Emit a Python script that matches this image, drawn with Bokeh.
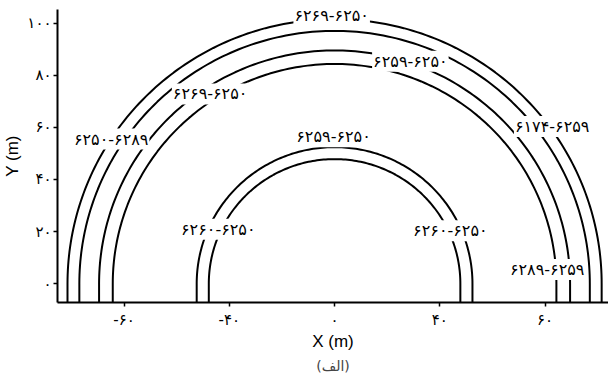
import numpy as np
from bokeh.plotting import figure
from bokeh.models import Label, Title, FixedTicker
from bokeh.embed import file_html
from bokeh.resources import INLINE

# contour radii (m)
outer_radii = [101.5, 97.0, 89.5, 84.3]
inner_radii = [52.4, 47.8]

# contour labels
label_texts = ["۶۲۶۹-۶۲۵۰", "۶۲۵۹-۶۲۵۰", "۶۲۶۹-۶۲۵۰", "۶۲۵۰-۶۲۸۹", "۶۱۷۴-۶۲۵۹",
               "۶۲۸۹-۶۲۵۹", "۶۲۵۹-۶۲۵۰", "۶۲۶۰-۶۲۵۰", "۶۲۶۰-۶۲۵۰"]
label_x = [-1.1, 28.8, -47.3, -84.9, 82.7, 80.8, -0.4, -44.2, 44.0]
label_y = [103.0, 85.3, 72.8, 55.5, 60.3, 5.5, 56.4, 20.9, 20.3]

x_ticks = [-80, -40, 0, 40, 80]
x_tick_labels = ["-۶۰", "-۴۰", "۰", "۴۰", "۶۰"]
y_ticks = [0, 20, 40, 60, 80, 100]
y_tick_labels = ["۰", "۲۰", "۴۰", "۶۰", "۸۰", "۱۰۰"]

X0, X1 = -105.3, 104.1
Y0, Y1 = -7.2, 105.2

p = figure(width=608, height=378, x_range=(X0, X1), y_range=(Y0, Y1),
           output_backend="svg", toolbar_location=None,
           min_border_left=57, min_border_right=0, min_border_top=9,
           min_border_bottom=76)
p.outline_line_color = None
p.grid.grid_line_color = None

theta = np.linspace(np.pi, 0, 181)
for r in outer_radii + inner_radii:
    xs = np.concatenate([[-r], r * np.cos(theta), [r]])
    ys = np.concatenate([[Y0], r * np.sin(theta), [Y0]])
    p.line(xs, ys, line_color="black", line_width=2)

for t, x, y in zip(label_texts, label_x, label_y):
    p.add_layout(Label(x=x, y=y, text=t, text_align="center", text_baseline="middle",
                       text_font="DejaVu Sans", text_font_size="16px", text_color="black",
                       background_fill_color="white", padding=1))

for ax in (p.xaxis[0], p.yaxis[0]):
    ax.axis_line_width = 2
    ax.axis_line_color = "black"
    ax.major_tick_line_width = 1.5
    ax.major_tick_in = 0
    ax.major_tick_out = 4
    ax.minor_tick_line_color = None
    ax.major_label_text_font = "DejaVu Sans"
    ax.major_label_text_font_size = "15px"
    ax.major_label_text_color = "black"
    ax.axis_label_text_font = "Liberation Sans"
    ax.axis_label_text_font_size = "17px"
    ax.axis_label_text_font_style = "normal"
    ax.axis_label_text_color = "black"

p.xaxis[0].ticker = FixedTicker(ticks=x_ticks)
p.xaxis[0].major_label_overrides = dict(zip(x_ticks, x_tick_labels))
p.yaxis[0].ticker = FixedTicker(ticks=y_ticks)
p.yaxis[0].major_label_overrides = dict(zip(y_ticks, y_tick_labels))
p.xaxis[0].axis_label = "X (m)"
p.yaxis[0].axis_label = "Y (m)"
p.xaxis[0].major_label_standoff = 4
p.yaxis[0].major_label_standoff = 2
p.xaxis[0].axis_label_standoff = 0
p.yaxis[0].axis_label_standoff = 2

p.add_layout(Title(text="(الف)", align="center", text_font="DejaVu Sans",
                   text_font_size="14px", text_font_style="normal", standoff=5), "below")

open("out.html", "w").write(file_html(p, INLINE))
